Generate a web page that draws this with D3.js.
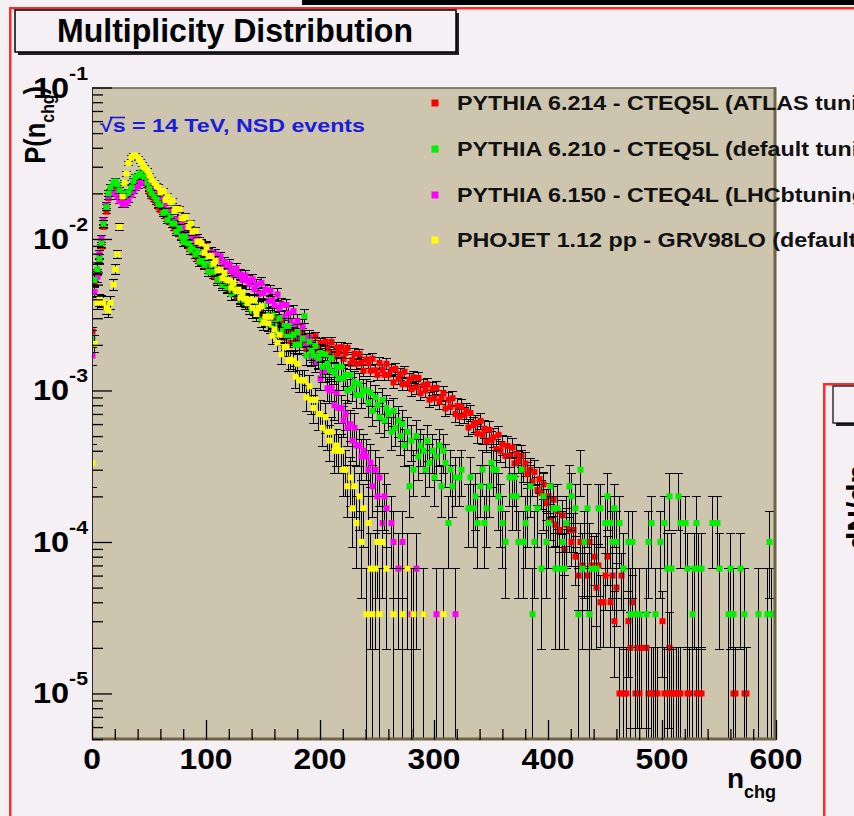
<!DOCTYPE html>
<html>
<head>
<meta charset="utf-8">
<script src="https://cdn.jsdelivr.net/npm/d3@7"></script>
<style>
  html, body { margin: 0; padding: 0; background: #f4f0f4; }
  svg { display: block; }
  text { font-family: "Liberation Sans", Arial, Helvetica, sans-serif; font-weight: bold; }
</style>
</head>
<body>
<svg id="canvas" width="854" height="816"></svg>
<script>
// ---------------------------------------------------------------
// Charged multiplicity distributions, pp at sqrt(s) = 14 TeV (NSD)
// Entries per bin of width 2 in n_chg; P = entries / generated events
// ---------------------------------------------------------------
const binWidth = 2;

const seriesLabels = [
  "PYTHIA 6.214 - CTEQ5L (ATLAS tuning)",
  "PYTHIA 6.210 - CTEQ5L (default tuning)",
  "PYTHIA 6.150 - CTEQ4L (LHCbtuning)",
  "PHOJET 1.12 pp - GRV98LO (default)"
];
const seriesColors = ["#ff0000", "#00f000", "#ff00ff", "#ffff00"];
const seriesEvents = [100000, 30000, 30000, 30000];

// PYTHIA 6.214 ATLAS tuning: entries for n = 0, 2, 4, ...
const atlasCounts = [
  245, 501, 603, 708, 891, 1202, 1514, 1862, 2089, 2188,
  2188, 2089, 1950, 1862, 1820, 1862, 1950, 2089, 2291, 2399,
  2512, 2570, 2512, 2399, 2239, 2042, 1905, 1820, 1738, 1622,
  1549, 1479, 1413, 1349, 1288, 1230, 1175, 1122, 1072, 1023,
  977, 933, 891, 851, 813, 776, 741, 716, 692, 668,
  652, 618, 609, 575, 568, 531, 529, 496, 494, 468,
  461, 441, 440, 418, 411, 392, 394, 374, 371, 349,
  351, 333, 336, 318, 320, 304, 306, 287, 286, 270,
  294, 247, 265, 284, 223, 238, 254, 206, 252, 217,
  231, 199, 240, 208, 188, 224, 207, 188, 228, 190,
  205, 170, 210, 189, 178, 209, 167, 192, 176, 193,
  162, 177, 191, 150, 159, 175, 150, 174, 153, 135,
  160, 152, 135, 162, 136, 127, 152, 137, 127, 150,
  127, 137, 113, 139, 120, 128, 110, 133, 110, 118,
  102, 122, 105, 121, 96, 108, 100, 110, 87, 103,
  89, 104, 84, 90, 96, 76, 87, 78, 89, 70,
  79, 67, 78, 69, 73, 57, 71, 59, 61, 52,
  63, 51, 56, 46, 55, 47, 49, 41, 51, 40,
  44, 37, 43, 37, 42, 33, 38, 34, 37, 30,
  33, 28, 30, 25, 29, 22, 26, 21, 24, 18,
  20, 14, 19, 13, 16, 12, 15, 9, 13, 12,
  10, 12, 8, 6, 10
];
// sparse high-multiplicity entries: [n, entries]
const atlasTail = [
  [430, 7], [432, 10], [434, 6], [436, 10], [438, 7], [440, 8], [442, 5], [444, 7],
  [446, 4], [448, 4], [450, 6], [452, 8], [454, 4], [456, 6], [458, 3], [460, 5],
  [462, 1], [464, 6], [466, 1], [468, 1], [470, 3], [472, 2], [474, 4], [476, 1],
  [478, 2], [480, 1], [482, 2], [486, 2], [488, 1], [490, 1], [492, 1], [496, 1],
  [500, 3], [502, 1], [504, 1], [506, 2], [508, 1], [510, 1], [512, 1], [514, 1],
  [516, 1], [522, 1], [524, 1], [530, 1], [532, 1], [534, 1], [562, 1], [564, 1],
  [572, 1], [574, 1]
];

// PYTHIA 6.210 default tuning
const defaultCounts = [
  66, 161, 189, 222, 280, 378, 487, 599, 657, 704,
  720, 687, 627, 599, 585, 599, 612, 657, 720, 771,
  789, 826, 807, 771, 704, 642, 599, 572, 546, 510,
  506, 446, 453, 399, 429, 379, 380, 334, 353, 311,
  286, 311, 280, 254, 265, 237, 249, 212, 219, 202,
  213, 182, 197, 182, 188, 161, 166, 149, 164, 144,
  145, 130, 143, 129, 134, 119, 129, 113, 117, 105,
  100, 117, 101, 106, 87, 109, 89, 94, 80, 94,
  83, 71, 90, 74, 80, 68, 80, 68, 70, 60,
  73, 60, 66, 93, 51, 63, 55, 51, 59, 49,
  53, 43, 52, 45, 41, 49, 39, 43, 36, 43,
  36, 38, 30, 38, 31, 34, 28, 33, 28, 30,
  30, 25, 29, 22, 27, 24, 20, 26, 19, 23,
  21, 16, 22, 17, 19, 15, 18, 13, 16, 7,
  14, 9, 15, 11, 13, 12, 9, 14, 10, 12,
  8, 11, 13, 7, 12, 10, 4, 9, 7, 8
];
const defaultTail = [
  [322, 8], [324, 9], [330, 5], [332, 8], [334, 5], [336, 6], [338, 4], [340, 7],
  [342, 9], [344, 4], [346, 5], [348, 7], [350, 10], [352, 9], [354, 9], [356, 6],
  [358, 5], [360, 4], [362, 3], [366, 8], [368, 6], [370, 8], [372, 6], [374, 3],
  [376, 9], [378, 3], [380, 4], [382, 5], [384, 7], [386, 1], [388, 3], [390, 5],
  [394, 2], [396, 6], [398, 3], [400, 4], [402, 7], [404, 5], [406, 2], [408, 5],
  [410, 2], [412, 3], [414, 2], [416, 4], [418, 7], [420, 6], [424, 5], [426, 1],
  [428, 9], [430, 2], [432, 3], [434, 5], [436, 1], [438, 2], [442, 2], [444, 5],
  [446, 5], [450, 4], [452, 6], [454, 4], [456, 3], [458, 5], [460, 3], [462, 4],
  [466, 2], [470, 3], [472, 1], [474, 3], [476, 1], [480, 1], [486, 1], [488, 3],
  [490, 4], [494, 1], [498, 3], [502, 4], [504, 2], [506, 6], [508, 2], [514, 6],
  [516, 4], [520, 4], [522, 2], [526, 1], [528, 2], [530, 4], [532, 2], [534, 2],
  [544, 4], [548, 4], [550, 2], [558, 1], [560, 2], [562, 1], [568, 2], [572, 1],
  [584, 1], [592, 1], [594, 3], [596, 1], [600, 1]
];

// PYTHIA 6.150 LHCb tuning
const lhcbCounts = [
  51, 134, 169, 238, 300, 396, 498, 572, 599, 612,
  599, 572, 534, 510, 510, 522, 546, 585, 627, 650,
  672, 704, 720, 737, 754, 737, 704, 657, 612, 572,
  562, 501, 523, 466, 427, 459, 402, 404, 363, 384,
  353, 321, 353, 311, 319, 285, 305, 269, 275, 245,
  273, 244, 246, 226, 239, 215, 230, 197, 211, 190,
  204, 185, 174, 192, 172, 175, 161, 172, 159, 151,
  163, 140, 150, 130, 154, 132, 139, 117, 137, 118,
  109, 129, 105, 111, 92, 110, 97, 86, 100, 81,
  86, 67, 79, 66, 59, 66, 50, 53, 46, 48,
  36, 40, 40, 31, 30, 31, 24, 29, 23, 23,
  19, 21, 17, 18, 14, 17, 13, 13, 11, 12,
  11, 9
];
const lhcbTail = [
  [244, 10], [246, 7], [248, 9], [250, 6], [252, 8], [254, 4], [256, 6], [258, 5],
  [262, 4], [264, 3], [268, 2], [272, 3], [276, 2], [280, 1], [284, 2], [290, 1],
  [302, 1], [318, 1]
];

// PHOJET 1.12 pp
const phojetCounts = [
  10, 61, 114, 119, 117, 114, 106, 101, 114, 150,
  189, 238, 360, 572, 704, 807, 949, 1040, 1065, 1065,
  1017, 971, 927, 885, 846, 789, 737, 704, 672, 657,
  608, 623, 543, 575, 523, 536, 458, 474, 471, 411,
  410, 420, 360, 380, 335, 340, 288, 289, 281, 243,
  266, 231, 232, 206, 215, 186, 188, 165, 179, 160,
  160, 143, 154, 136, 139, 123, 133, 121, 113, 119,
  105, 118, 96, 105, 108, 84, 92, 83, 92, 69,
  76, 62, 70, 52, 58, 58, 47, 48, 47, 37,
  45, 35, 35, 35, 27, 32, 26, 23, 26, 21,
  21, 17, 20, 16, 14, 16, 12, 13, 12, 12,
  9
];
const phojetTail = [
  [222, 9], [224, 7], [226, 8], [228, 5], [230, 7], [232, 4], [234, 6], [236, 3],
  [238, 5], [240, 1], [242, 4], [244, 2], [246, 1], [248, 2], [250, 3], [252, 1],
  [254, 3], [258, 2], [264, 1], [272, 1], [276, 2], [282, 1], [290, 1], [308, 1]
];

const seriesCounts = [atlasCounts, defaultCounts, lhcbCounts, phojetCounts];
const seriesTails = [atlasTail, defaultTail, lhcbTail, phojetTail];
// painting order of the four histograms (later ones lie on top)
const paintOrder = [0, 2, 1, 3];

// axis ranges and tick labels
const xDomain = [0, 600];
const yDomain = [4.93e-6, 0.1];
const xTickValues = [0, 100, 200, 300, 400, 500, 600];
const yDecadeExponents = [-1, -2, -3, -4, -5];

// ---------------------------------------------------------------
const svg = d3.select("#canvas");
const W = 854, H = 816;
const frame = { left: 92, right: 776, top: 87.5, bottom: 740 };

const x = d3.scaleLinear().domain(xDomain).range([frame.left, frame.right]);
const y = d3.scaleLog().domain(yDomain).range([frame.bottom, frame.top]);

// canvas background and pad borders
svg.append("rect").attr("width", W).attr("height", H).attr("fill", "#f4f0f4");
svg.append("rect").attr("x", 302).attr("y", 0).attr("width", W - 302).attr("height", 5).attr("fill", "#000");
svg.append("rect").attr("x", 9).attr("y", 7).attr("width", W - 9).attr("height", 2.5).attr("fill", "#ff2a2a");
svg.append("rect").attr("x", 9).attr("y", 7).attr("width", 2.5).attr("height", H - 7).attr("fill", "#ff2a2a");

// neighbouring pad on the right
svg.append("rect").attr("x", 823).attr("y", 383).attr("width", W - 823).attr("height", 2.5).attr("fill", "#ff2a2a");
svg.append("rect").attr("x", 823).attr("y", 383).attr("width", 2.5).attr("height", H - 383).attr("fill", "#ff2a2a");
svg.append("rect").attr("x", 836).attr("y", 389).attr("width", 30).attr("height", 37).attr("fill", "#222");
svg.append("rect").attr("x", 833).attr("y", 386).attr("width", 30).attr("height", 37)
  .attr("fill", "#f4f0f4").attr("stroke", "#000").attr("stroke-width", 1.2);
svg.append("text").attr("transform", "translate(868,550) rotate(-90)")
  .attr("font-size", 30).attr("fill", "#000").text("dN/dη");

// title box
svg.append("rect").attr("x", 18).attr("y", 13).attr("width", 441).attr("height", 42).attr("fill", "#222");
svg.append("rect").attr("x", 15).attr("y", 10).attr("width", 441).attr("height", 42)
  .attr("fill", "#f4f0f4").attr("stroke", "#000").attr("stroke-width", 1.5);
svg.append("text").attr("x", 235).attr("y", 42).attr("text-anchor", "middle")
  .attr("font-size", 33).attr("textLength", 356).attr("lengthAdjust", "spacingAndGlyphs")
  .attr("fill", "#000").text("Multiplicity Distribution");

// frame
svg.append("rect").attr("x", frame.left).attr("y", frame.top)
  .attr("width", frame.right - frame.left).attr("height", frame.bottom - frame.top)
  .attr("fill", "#cdc5ad");

svg.append("defs").append("clipPath").attr("id", "frameClip")
  .append("rect").attr("x", frame.left).attr("y", frame.top)
  .attr("width", frame.right - frame.left).attr("height", frame.bottom - frame.top);

// histogram points
function buildPoints(counts, tail, nEvents) {
  const raw = [];
  counts.forEach((c, i) => { if (c > 0) raw.push([i * binWidth, c]); });
  tail.forEach(d => raw.push(d));
  return raw.map(([n, c]) => ({ n, p: c / nEvents, err: Math.sqrt(c) / nEvents }));
}

const plot = svg.append("g").attr("clip-path", "url(#frameClip)");
const capHalf = 4.5, markerHalf = 3;

paintOrder.forEach(k => {
  const pts = buildPoints(seriesCounts[k], seriesTails[k], seriesEvents[k]);
  const g = plot.append("g");
  const errs = g.append("g").attr("stroke", "#000").attr("stroke-width", 1).attr("shape-rendering", "crispEdges");
  pts.forEach(d => {
    const cx = Math.round(x(d.n)) + 0.5;
    const hi = d.p + d.err, lo = d.p - d.err;
    const yHi = y(hi);
    const yLo = lo > yDomain[0] ? y(lo) : frame.bottom + 2;
    errs.append("line").attr("x1", cx).attr("x2", cx).attr("y1", yHi).attr("y2", yLo);
    errs.append("line").attr("x1", cx - capHalf).attr("x2", cx + capHalf).attr("y1", yHi).attr("y2", yHi);
    if (lo > yDomain[0]) {
      errs.append("line").attr("x1", cx - capHalf).attr("x2", cx + capHalf).attr("y1", yLo).attr("y2", yLo);
    }
  });
  g.append("g").selectAll("rect").data(pts).join("rect")
    .attr("x", d => Math.round(x(d.n)) - markerHalf + 0.5)
    .attr("y", d => y(d.p) - markerHalf)
    .attr("width", markerHalf * 2).attr("height", markerHalf * 2)
    .attr("fill", seriesColors[k]);
});

// frame outline with darker lower/right bevel
svg.append("rect").attr("x", frame.left + 0.5).attr("y", frame.top + 0.5)
  .attr("width", frame.right - frame.left - 1).attr("height", frame.bottom - frame.top - 1)
  .attr("fill", "none").attr("stroke", "#2a2a2a").attr("stroke-width", 1);
svg.append("rect").attr("x", frame.left).attr("y", frame.bottom - 2.5)
  .attr("width", frame.right - frame.left).attr("height", 3).attr("fill", "#6d6546");
svg.append("rect").attr("x", frame.right - 2.5).attr("y", frame.top)
  .attr("width", 3).attr("height", frame.bottom - frame.top).attr("fill", "#6d6546");

// y axis: ticks drawn inside the frame
const yMajor = yDecadeExponents.map(e => Math.pow(10, e));
const yMinor = [];
for (let e = -6; e <= -2; e++) {
  for (let m = 2; m <= 9; m++) {
    const v = m * Math.pow(10, e);
    if (v >= yDomain[0] && v <= yDomain[1]) yMinor.push(v);
  }
}
svg.append("g").attr("transform", `translate(${frame.left},0)`)
  .call(d3.axisRight(y).tickValues(yMajor).tickSize(20).tickFormat(""))
  .call(g => g.select(".domain").remove())
  .selectAll("line").attr("stroke", "#000").attr("stroke-width", 1.3);
svg.append("g").attr("transform", `translate(${frame.left},0)`)
  .call(d3.axisRight(y).tickValues(yMinor).tickSize(11).tickFormat(""))
  .call(g => g.select(".domain").remove())
  .selectAll("line").attr("stroke", "#000").attr("stroke-width", 1.3);

// x axis: ticks pointing up from the bottom edge
const xMinor = d3.range(0, 601, 20).filter(v => v % 100 !== 0);
svg.append("g").attr("transform", `translate(0,${frame.bottom})`)
  .call(d3.axisTop(x).tickValues(xTickValues).tickSize(20).tickFormat(""))
  .call(g => g.select(".domain").remove())
  .selectAll("line").attr("stroke", "#000").attr("stroke-width", 1.3);
svg.append("g").attr("transform", `translate(0,${frame.bottom})`)
  .call(d3.axisTop(x).tickValues(xMinor).tickSize(11).tickFormat(""))
  .call(g => g.select(".domain").remove())
  .selectAll("line").attr("stroke", "#000").attr("stroke-width", 1.3);

// tick labels
svg.append("g").selectAll("text").data(xTickValues).join("text")
  .attr("transform", d => `translate(${x(d)},769) scale(1.06,1)`).attr("text-anchor", "middle")
  .attr("font-size", 30).attr("fill", "#000").text(d => d);

const yLab = svg.append("g").selectAll("text").data(yDecadeExponents).join("text")
  .attr("transform", d => `translate(88,${y(Math.pow(10, d)) + 10}) scale(1.12,1)`)
  .attr("text-anchor", "end").attr("fill", "#000");
yLab.append("tspan").attr("font-size", 29).text("10");
yLab.append("tspan").attr("font-size", 19).attr("dy", -18).text(d => String(d));

// axis titles
const xt = svg.append("text").attr("x", frame.right).attr("y", 788).attr("text-anchor", "end").attr("fill", "#000");
xt.append("tspan").attr("font-size", 28).text("n");
xt.append("tspan").attr("font-size", 18).attr("dy", 10).text("chg");

const yt = svg.append("text").attr("transform", "translate(45,86) rotate(-90) scale(0.88,1)")
  .attr("text-anchor", "end").attr("fill", "#000");
yt.append("tspan").attr("font-size", 29).text("P(n");
yt.append("tspan").attr("font-size", 18).attr("dy", 9).text("chg");
yt.append("tspan").attr("font-size", 29).attr("dy", -9).text(")");

// energy annotation
svg.append("text").attr("x", 100).attr("y", 132)
  .attr("font-size", 19).attr("fill", "#1c1cdc")
  .attr("textLength", 265).attr("lengthAdjust", "spacingAndGlyphs")
  .text("√s = 14 TeV, NSD events");
svg.append("line").attr("x1", 110).attr("x2", 125).attr("y1", 117.5).attr("y2", 117.5)
  .attr("stroke", "#1c1cdc").attr("stroke-width", 1.6);

// legend
const legendRows = [103, 149, 195, 240];
const leg = svg.append("g");
seriesLabels.forEach((label, i) => {
  leg.append("rect").attr("x", 431.5).attr("y", legendRows[i] - 3.5).attr("width", 7).attr("height", 7)
    .attr("fill", seriesColors[i]);
  leg.append("text").attr("transform", `translate(457,${legendRows[i] + 7}) scale(1.165,1)`)
    .attr("font-size", 20).attr("fill", "#111").text(label);
});
</script>
</body>
</html>
